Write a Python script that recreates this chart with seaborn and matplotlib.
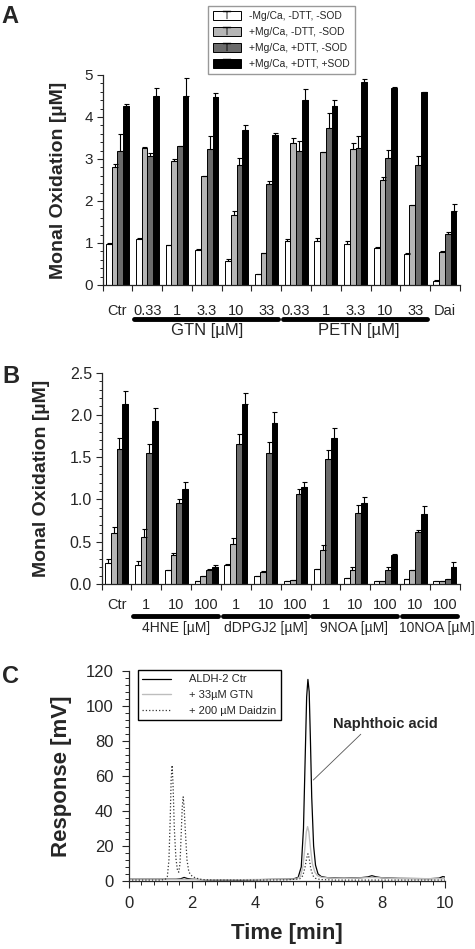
# Monal oxidation bar charts (A, B) and HPLC trace (C)
import numpy as np
import pandas as pd
import matplotlib
matplotlib.use("Agg")
import matplotlib.pyplot as plt
import seaborn as sns
from matplotlib.patches import Patch
from matplotlib.lines import Line2D
from matplotlib.ticker import MultipleLocator, FixedLocator

# =========================================================
# data
# =========================================================

cond_labels = ['-Mg/Ca, -DTT, -SOD', '+Mg/Ca, -DTT, -SOD',
               '+Mg/Ca, +DTT, -SOD', '+Mg/Ca, +DTT, +SOD']
bar_colors = ['white', '#b6b6b6', '#6b6b6b', 'black']

# panel A
a_keys = ['Ctr', 'GTN 0.33', 'GTN 1', 'GTN 3.3', 'GTN 10', 'GTN 33',
          'PETN 0.33', 'PETN 1', 'PETN 3.3', 'PETN 10', 'PETN 33', 'Dai']
a_ticks = ['Ctr', '0.33', '1', '3.3', '10', '33',
           '0.33', '1', '3.3', '10', '33', 'Dai']
a_white = [0.97, 1.09, 0.95, 0.83, 0.57, 0.25, 1.04, 1.04, 0.98, 0.89, 0.74, 0.10]
a_light = [2.80, 3.27, 2.96, 2.60, 1.66, 0.77, 3.37, 3.16, 3.23, 2.50, 1.90, 0.79]
a_gray = [3.19, 3.06, 3.30, 3.24, 2.85, 2.40, 3.18, 3.73, 3.25, 3.02, 2.86, 1.22]
a_black = [4.27, 4.50, 4.50, 4.47, 3.70, 3.56, 4.40, 4.27, 4.83, 4.70, 4.60, 1.75]
a_white_sd = [0.02, 0.02, 0.00, 0.02, 0.04, 0.00, 0.06, 0.07, 0.06, 0.01, 0.03, 0.02]
a_light_sd = [0.07, 0.01, 0.03, 0.00, 0.09, 0.00, 0.13, 0.00, 0.14, 0.08, 0.01, 0.01]
a_gray_sd = [0.41, 0.09, 0.00, 0.30, 0.17, 0.08, 0.25, 0.37, 0.30, 0.20, 0.22, 0.03]
a_black_sd = [0.05, 0.18, 0.42, 0.09, 0.10, 0.06, 0.26, 0.14, 0.07, 0.01, 0.00, 0.17]
# (label, first group, last group, text centre)
a_groups = [('GTN [µM]', 1, 5, 3.0), ('PETN [µM]', 6, 10, 8.1)]

# panel B
b_keys = ['Ctr', '4HNE 1', '4HNE 10', '4HNE 100', 'dD 1', 'dD 10', 'dD 100',
          '9NOA 1', '9NOA 10', '9NOA 100', '10NOA 10', '10NOA 100']
b_ticks = ['Ctr', '1', '10', '100', '1', '10', '100',
           '1', '10', '100', '10', '100']
b_white = [0.25, 0.23, 0.16, 0.04, 0.22, 0.09, 0.035, 0.18, 0.075, 0.03, 0.065, 0.035]
b_light = [0.60, 0.56, 0.34, 0.09, 0.47, 0.14, 0.05, 0.40, 0.17, 0.04, 0.16, 0.035]
b_gray = [1.60, 1.55, 0.96, 0.17, 1.66, 1.55, 1.06, 1.48, 0.84, 0.17, 0.61, 0.06]
b_black = [2.13, 1.93, 1.12, 0.20, 2.13, 1.91, 1.15, 1.73, 0.96, 0.34, 0.83, 0.20]
b_white_sd = [0.04, 0.04, 0.01, 0.00, 0.02, 0.00, 0.00, 0.00, 0.00, 0.00, 0.00, 0.00]
b_light_sd = [0.07, 0.09, 0.03, 0.00, 0.07, 0.01, 0.00, 0.06, 0.03, 0.00, 0.00, 0.00]
b_gray_sd = [0.13, 0.11, 0.05, 0.01, 0.12, 0.13, 0.06, 0.10, 0.09, 0.03, 0.03, 0.00]
b_black_sd = [0.15, 0.15, 0.09, 0.02, 0.13, 0.12, 0.06, 0.12, 0.07, 0.02, 0.09, 0.06]
b_groups = [('4HNE [µM]', 1, 3, 2.0), ('dDPGJ2 [µM]', 4, 6, 5.0),
            ('9NOA [µM]', 7, 9, 7.95), ('10NOA [µM]', 10, 11, 10.72)]

# panel C (chromatograms)
ctr_t = [0, 0.5, 1.0, 1.5, 1.65, 1.75, 1.85, 2.0, 2.5, 3.0, 3.5, 4.0, 4.5, 5.0,
         5.2, 5.35, 5.45, 5.52, 5.58, 5.62, 5.66, 5.70, 5.74, 5.78, 5.84, 5.90,
         5.98, 6.08, 6.3, 6.8, 7.3, 7.55, 7.68, 7.8, 8.0, 8.5, 9.0, 9.5, 9.8,
         9.92, 10.0]
ctr_y = [1.0, 1.0, 1.0, 1.0, 1.3, 2.0, 1.4, 1.0, 0.6, 0.5, 0.5, 0.7, 0.9, 1.0,
         1.2, 2.0, 8, 30, 75, 105, 115, 108, 80, 48, 20, 9,
         4, 2.5, 1.8, 1.6, 1.8, 2.3, 3.0, 2.4, 1.8, 1.5, 1.4, 1.3, 1.6,
         2.5, 2.2]
gtn_t = [0, 1.0, 2.0, 3.0, 4.0, 5.0, 5.3, 5.42, 5.5, 5.56, 5.61, 5.65, 5.69,
         5.74, 5.8, 5.88, 5.96, 6.1, 6.5, 7.0, 7.7, 8.5, 10]
gtn_y = [1.0, 1.0, 0.8, 0.6, 0.8, 1.0, 1.2, 2.5, 8, 18, 28, 31, 28,
         19, 10, 5, 3, 2, 1.5, 1.5, 2, 1.3, 1.3]
dai_t = [0, 0.5, 1.0, 1.15, 1.22, 1.27, 1.31, 1.34, 1.37, 1.40, 1.44, 1.49,
         1.54, 1.58, 1.62, 1.66, 1.69, 1.72, 1.75, 1.79, 1.84, 1.9, 2.0, 2.1,
         2.25, 2.4, 2.7, 3.0, 4.0, 5.0, 5.4, 5.5, 5.57, 5.62, 5.66, 5.70, 5.75,
         5.82, 5.9, 6.05, 6.5, 8.0, 10]
dai_y = [0.5, 0.5, 0.5, 0.8, 2.5, 12, 35, 58, 66, 55, 30, 13,
         6, 5, 10, 28, 42, 48, 42, 28, 12, 5, 2.8, 1.8,
         1.0, 0.7, 0.5, 0.5, 0.5, 0.6, 1.2, 3, 8, 13, 15.5, 13, 7,
         3, 1.5, 0.8, 0.5, 0.5, 0.5]

# =========================================================
# style
# =========================================================

sns.set_style("ticks")
plt.rcParams['font.family'] = ['Liberation Sans', 'DejaVu Sans']
plt.rcParams['axes.linewidth'] = 0.9

fig = plt.figure(figsize=(4.75, 9.49), dpi=100)


def bar_panel(ax, keys, ticks, vals, sds, groups, ymax, major, minor,
              ytick_fs, xtick_fs, xpad, grp_fs, y_line, y_text):
    rows = []
    for cond, v in zip(cond_labels, vals):
        for k, x in zip(keys, v):
            rows.append({'key': k, 'value': x, 'cond': cond})
    df = pd.DataFrame(rows)

    sns.barplot(data=df, x='key', y='value', hue='cond', order=keys,
                hue_order=cond_labels,
                palette=dict(zip(cond_labels, bar_colors)),
                edgecolor='black', linewidth=0.7, width=0.77, gap=0,
                saturation=1, errorbar=None, legend=False, ax=ax)

    # one-sided error bars
    for cont, sd in zip(ax.containers, sds):
        xs = [b.get_x() + b.get_width() / 2 for b in cont]
        hs = [b.get_height() for b in cont]
        ax.errorbar(xs, hs, yerr=[np.zeros(len(sd)), sd], fmt='none',
                    ecolor='black', elinewidth=0.8, capsize=1.8,
                    capthick=0.8, zorder=5)

    n = len(keys)
    ax.set_xlim(-0.5, n - 0.5)
    ax.set_ylim(0, ymax)
    ax.yaxis.set_major_locator(MultipleLocator(major))
    ax.yaxis.set_minor_locator(MultipleLocator(minor))
    ax.xaxis.set_major_locator(FixedLocator(range(n)))
    ax.xaxis.set_minor_locator(FixedLocator(np.arange(n + 1) - 0.5))
    ax.set_xticklabels(ticks)
    ax.tick_params(axis='x', which='major', length=0, pad=xpad,
                   labelsize=xtick_fs)
    ax.tick_params(axis='x', which='minor', length=4.5, width=0.8)
    ax.tick_params(axis='y', which='major', length=4.5, width=0.8,
                   labelsize=ytick_fs, pad=2.5)
    ax.tick_params(axis='y', which='minor', length=2.5, width=0.7)
    ax.set_xlabel('')
    sns.despine(ax=ax)

    trans = ax.get_xaxis_transform()
    for name, i0, i1, xc in groups:
        x0, x1 = i0 - 0.45, i1 + 0.4
        ax.plot([x0, x1], [y_line, y_line], transform=trans, color='black',
                lw=3.5, solid_capstyle='round', clip_on=False)
        ax.text(xc, y_text, name, transform=trans, ha='center',
                va='center', fontsize=grp_fs)


# =========================================================
# A
# =========================================================

axA = fig.add_axes([0.216, 0.6997, 0.752, 0.2213])
bar_panel(axA, a_keys, a_ticks, [a_white, a_light, a_gray, a_black],
          [a_white_sd, a_light_sd, a_gray_sd, a_black_sd], a_groups,
          5, 1, 0.2, 11, 10.5, 14, 12, -0.162, -0.218)
axA.set_ylabel('Monal Oxidation [µM]', fontsize=14, fontweight='bold')
axA.yaxis.set_label_coords(-0.1, 0.5)

handles = [(Patch(facecolor=c, edgecolor='black', linewidth=0.7),
            Line2D([], [], marker='$\\top$', color='black', linestyle='none',
                   markersize=6, markeredgewidth=0.3))
           for c in bar_colors]
fig.legend(handles, cond_labels, loc='upper left',
           bbox_to_anchor=(203 / 475, 1 - 1 / 949), fontsize=7.4,
           frameon=True, fancybox=False, edgecolor='#999999',
           framealpha=1, handlelength=2.7, handleheight=1.0,
           labelspacing=0.55, borderpad=0.5, handletextpad=0.8)

# =========================================================
# B
# =========================================================

axB = fig.add_axes([0.214, 0.3846, 0.754, 0.2227])
bar_panel(axB, b_keys, b_ticks, [b_white, b_light, b_gray, b_black],
          [b_white_sd, b_light_sd, b_gray_sd, b_black_sd], b_groups,
          2.5, 0.5, 0.1, 11.5, 10.5, 10, 10, -0.151, -0.21)
axB.set_ylabel('Monal Oxidation [µM]', fontsize=14, fontweight='bold')
axB.yaxis.set_label_coords(-0.145, 0.5)

# =========================================================
# C
# =========================================================

axC = fig.add_axes([0.271, 0.0717, 0.6665, 0.2216])
sns.lineplot(x=ctr_t, y=ctr_y, ax=axC, color='black', lw=0.9,
             label='ALDH-2 Ctr')
sns.lineplot(x=gtn_t, y=gtn_y, ax=axC, color='#bdbdbd', lw=1.0,
             label='+ 33µM GTN')
sns.lineplot(x=dai_t, y=dai_y, ax=axC, color='#333333', lw=0.9,
             linestyle=':', label='+ 200 µM Daidzin')
axC.set_xlim(0, 10)
axC.set_ylim(0, 120)
axC.xaxis.set_major_locator(MultipleLocator(2))
axC.xaxis.set_minor_locator(MultipleLocator(0.4))
axC.yaxis.set_major_locator(MultipleLocator(20))
axC.yaxis.set_minor_locator(MultipleLocator(4))
axC.tick_params(which='major', length=5, width=0.8, labelsize=12, pad=6)
axC.tick_params(which='minor', length=3, width=0.7)
sns.despine(ax=axC)
axC.set_xlabel('Time [min]', fontsize=16, fontweight='bold')
axC.set_ylabel('Response [mV]', fontsize=16, fontweight='bold')
axC.xaxis.set_label_coords(0.5, -0.2)
axC.yaxis.set_label_coords(-0.18, 0.5)
axC.legend(loc='upper left', bbox_to_anchor=(0.029, 1.003),
           borderaxespad=0, fontsize=8, frameon=True, fancybox=False,
           edgecolor='black', framealpha=1, handlelength=2.6,
           handletextpad=1.6, labelspacing=0.5)
axC.annotate('Naphthoic acid', xy=(5.83, 57.6), xytext=(8.1, 89.6),
             ha='center', va='center', fontsize=10.5, fontweight='bold',
             arrowprops=dict(arrowstyle='-', lw=0.6, color='#555555',
                             shrinkA=0, shrinkB=0, relpos=(0.3, 0)))

# panel letters
for letter, ytop in [('A', 5), ('B', 365), ('C', 665)]:
    fig.text(0.004, 1 - ytop / 949, letter, fontsize=17, fontweight='bold',
             va='top', ha='left')

fig.savefig('out.png', dpi=100)
